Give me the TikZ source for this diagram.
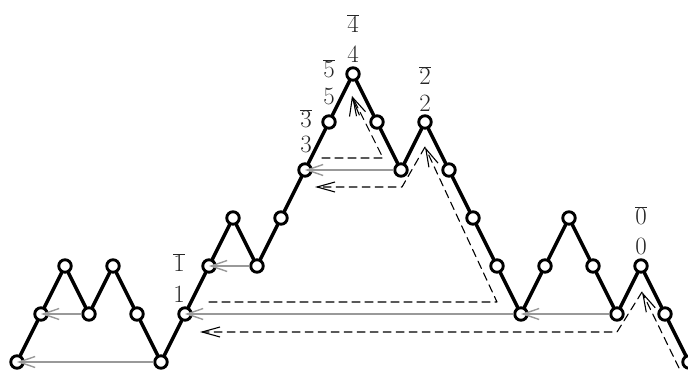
\documentclass[tikz,border=0pt]{standalone}
\usetikzlibrary{arrows.meta}

\begin{document}
\begin{tikzpicture}[x=1pt, y=-1pt, line cap=round, line join=round,
    vtx/.style={circle, draw, fill=white, line width=2.9pt, minimum size=12.5pt, inner sep=0pt},
    trail/.style={line width=3.5pt},
    back/.style={draw=black!40, line width=1.4pt, -{Straight Barb[length=16pt,width=11pt]}},
    walk/.style={dash pattern=on 8pt off 5pt, line width=1.1pt, -{Straight Barb[length=18pt,width=10pt]}},
    lbl/.style={anchor=base, inner sep=0pt, text=black!85, font=\fontsize{27}{32}\selectfont}]

  %% ════ 路径顶点 ════
  \node[vtx] (v0)  at (17,362)  {};
  \node[vtx] (v1)  at (41,314)  {};
  \node[vtx] (v2)  at (65,266)  {};
  \node[vtx] (v3)  at (89,314)  {};
  \node[vtx] (v4)  at (113,266) {};
  \node[vtx] (v5)  at (137,314) {};
  \node[vtx] (v6)  at (161,362) {};
  \node[vtx] (v7)  at (185,314) {};
  \node[vtx] (v8)  at (209,266) {};
  \node[vtx] (v9)  at (233,218) {};
  \node[vtx] (v10) at (257,266) {};
  \node[vtx] (v11) at (281,218) {};
  \node[vtx] (v12) at (305,170) {};
  \node[vtx] (v13) at (329,122) {};
  \node[vtx] (v14) at (353,74)  {};
  \node[vtx] (v15) at (377,122) {};
  \node[vtx] (v16) at (401,170) {};
  \node[vtx] (v17) at (425,122) {};
  \node[vtx] (v18) at (449,170) {};
  \node[vtx] (v19) at (473,218) {};
  \node[vtx] (v20) at (497,266) {};
  \node[vtx] (v21) at (521,314) {};
  \node[vtx] (v22) at (545,266) {};
  \node[vtx] (v23) at (569,218) {};
  \node[vtx] (v24) at (593,266) {};
  \node[vtx] (v25) at (617,314) {};
  \node[vtx] (v26) at (641,266) {};
  \node[vtx] (v27) at (665,314) {};
  \node[vtx] (v28) at (689,362) {};

  %% ════ 粗折线 ════
  \draw[trail] (v0) -- (v1) -- (v2) -- (v3) -- (v4) -- (v5) -- (v6) -- (v7) -- (v8) -- (v9)
    -- (v10) -- (v11) -- (v12) -- (v13) -- (v14) -- (v15) -- (v16) -- (v17) -- (v18) -- (v19)
    -- (v20) -- (v21) -- (v22) -- (v23) -- (v24) -- (v25) -- (v26) -- (v27) -- (v28);

  %% ════ 灰色回跳箭头 ════
  \draw[back] (v3)  -- (v1.center);
  \draw[back] (v6)  -- (v0.center);
  \draw[back] (v10) -- (v8.center);
  \draw[back] (v16) -- (v12.center);
  \draw[back] (v25) -- (v21.center);
  \draw[back] (v21) -- (v7.center);

  %% ════ 虚线走向 ════
  \coordinate (e0) at (679,368);
  \coordinate (a0) at (642,292);
  \coordinate (f0) at (617,332);
  \coordinate (g0) at (200,332);
  \coordinate (s2) at (209,302);
  \coordinate (t2) at (497,302);
  \coordinate (a2) at (425,147);
  \coordinate (f2) at (402,187);
  \coordinate (g2) at (315,187);
  \coordinate (s4) at (322,158);
  \coordinate (t4) at (383,158);
  \coordinate (a4) at (352,96);
  \coordinate (b4) at (352.5,100);

  \draw[walk] (e0) -- (a0);
  \draw[walk] (a0) -- (f0) -- (g0);
  \draw[walk] (s2) -- (t2) -- (a2);
  \draw[walk] (a2) -- (f2) -- (g2);
  \draw[walk] (s4) -- (t4) -- (a4);
  \draw[walk] (b4) -- (a4); % 重叠的第二个箭头

  %% ════ 标签 ════
  \node[lbl] (lb4) at (353,33)  {$\overline{4}$};
  \node[lbl] (l4)  at (353,63)  {$4$};
  \node[lbl] (lb5) at (329,78)  {$\overline{5}$};
  \node[lbl] (l5)  at (329,105) {$5$};
  \node[lbl] (lb3) at (306,128) {$\overline{3}$};
  \node[lbl] (l3)  at (306,153) {$3$};
  \node[lbl] (lb2) at (425,85)  {$\overline{2}$};
  \node[lbl] (l2)  at (425,112) {$2$};
  \node[lbl] (lb1) at (179,272) {$\overline{1}$};
  \node[lbl] (l1)  at (179,303) {$1$};
  \node[lbl] (lb0) at (641,225) {$\overline{0}$};
  \node[lbl] (l0)  at (641,255) {$0$};

  % 钉死画布
  \pgfresetboundingbox
  \path[use as bounding box] (0,0) rectangle (688,371);
\end{tikzpicture}
\end{document}
